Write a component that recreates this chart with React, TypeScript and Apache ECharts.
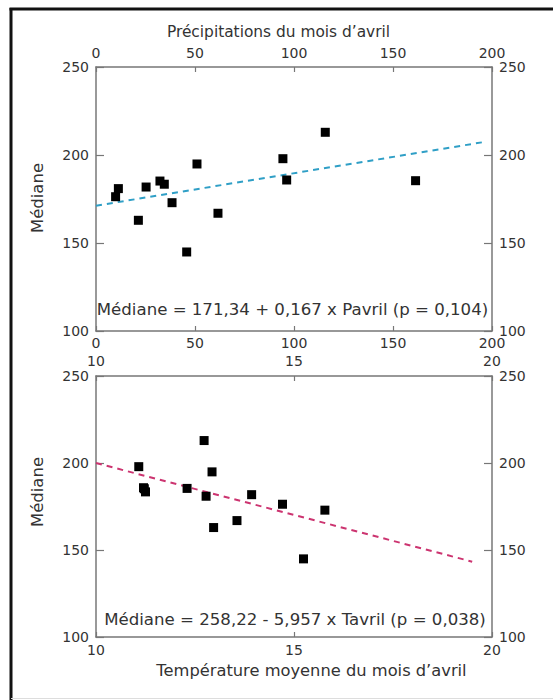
import React, { useEffect, useRef } from "react";
import * as echarts from "echarts";

// Data
const precipitation = [9.9, 11.3, 21.4, 25.3, 32.3, 34.5, 38.4, 45.8, 51.0, 61.6, 94.4, 96.3, 115.8, 161.4];
const temperature = [14.71, 12.78, 12.97, 13.93, 11.22, 11.25, 15.78, 15.24, 12.93, 13.56, 11.08, 11.2, 12.73, 12.3];
const median = [176.3, 180.9, 162.9, 181.8, 185.2, 183.4, 172.9, 144.9, 194.9, 166.9, 197.9, 185.8, 212.9, 185.4];

const fitPrecipX = [0, 195];
const fitPrecipY = [171.2, 207.2];
const fitTempX = [10, 19.5];
const fitTempY = [200, 143.3];

const precipTicks = { min: 0, max: 200, interval: 50 };
const tempTicks = { min: 10, max: 20, interval: 5 };
const medianTicks = { min: 100, max: 250, interval: 50 };

const eqPrecip = "Médiane = 171,34 + 0,167 x Pavril (p = 0,104)";
const eqTemp = "Médiane = 258,22 - 5,957 x Tavril (p = 0,038)";
const titleTop = "Précipitations du mois d\u2019avril";
const titleBottom = "Température moyenne du mois d\u2019avril";
const yName = "Médiane";

const FONT = "DejaVu Sans";
const AXIS_COLOR = "#777";
const TEXT_COLOR = "#333";

export default function App() {
  const ref = useRef<HTMLDivElement>(null);
  useEffect(() => {
    if (!ref.current) return;
    const chart = echarts.init(ref.current, null, { renderer: "svg" });

    const xAxisBase = (grid: number, pos: "top" | "bottom", ticks: any, margin: number) => ({
      type: "value",
      gridIndex: grid,
      position: pos,
      min: ticks.min,
      max: ticks.max,
      interval: ticks.interval,
      axisLine: { show: true, onZero: false, lineStyle: { color: AXIS_COLOR, width: 1.5 } },
      axisTick: { show: true, inside: true, length: 5, lineStyle: { color: AXIS_COLOR, width: 1.2 } },
      axisLabel: { show: true, margin, fontSize: 14, color: TEXT_COLOR, fontFamily: FONT },
      splitLine: { show: false },
    });
    const yAxisBase = (grid: number, pos: "left" | "right") => ({
      type: "value",
      gridIndex: grid,
      position: pos,
      min: medianTicks.min,
      max: medianTicks.max,
      interval: medianTicks.interval,
      axisLine: { show: true, onZero: false, lineStyle: { color: AXIS_COLOR, width: 1.5 } },
      axisTick: { show: true, inside: true, length: 8, lineStyle: { color: AXIS_COLOR, width: 1.2 } },
      axisLabel: { show: true, margin: 7, fontSize: 14, color: TEXT_COLOR, fontFamily: FONT },
      splitLine: { show: false },
    });

    const dashed = (color: string) => ({
      color,
      width: 2,
      type: [6, 5],
    });

    chart.setOption({
      animation: false,
      backgroundColor: "#fff",
      grid: [
        { left: 96, top: 67, width: 396, height: 264 },
        { left: 96, top: 376, width: 396, height: 261 },
      ],
      xAxis: [
        xAxisBase(0, "bottom", precipTicks, 5),
        xAxisBase(0, "top", precipTicks, 7),
        xAxisBase(1, "bottom", tempTicks, 6),
        xAxisBase(1, "top", tempTicks, 8),
      ],
      yAxis: [yAxisBase(0, "left"), yAxisBase(0, "right"), yAxisBase(1, "left"), yAxisBase(1, "right")],
      series: [
        {
          type: "line",
          xAxisIndex: 0,
          yAxisIndex: 0,
          data: fitPrecipX.map((x, i) => [x, fitPrecipY[i]]),
          symbol: "none",
          lineStyle: dashed("#2f9fc6"),
          z: 1,
        },
        {
          type: "scatter",
          xAxisIndex: 0,
          yAxisIndex: 0,
          data: precipitation.map((x, i) => [x, median[i]]),
          symbol: "rect",
          symbolSize: 9,
          itemStyle: { color: "#000", opacity: 1 },
          z: 2,
        },
        {
          type: "line",
          xAxisIndex: 2,
          yAxisIndex: 2,
          data: fitTempX.map((x, i) => [x, fitTempY[i]]),
          symbol: "none",
          lineStyle: dashed("#cc3470"),
          z: 1,
        },
        {
          type: "scatter",
          xAxisIndex: 2,
          yAxisIndex: 2,
          data: temperature.map((x, i) => [x, median[i]]),
          symbol: "rect",
          symbolSize: 9,
          itemStyle: { color: "#000", opacity: 1 },
          z: 2,
        },
      ],
      graphic: [
        { type: "line", shape: { x1: 9.5, y1: 9, x2: 553, y2: 9 }, style: { stroke: "#111", lineWidth: 3 } },
        { type: "line", shape: { x1: 11, y1: 8, x2: 11, y2: 700 }, style: { stroke: "#111", lineWidth: 3 } },
        { type: "line", shape: { x1: 11, y1: 698.5, x2: 553, y2: 698.5 }, style: { stroke: "#ddd", lineWidth: 1 } },
        {
          type: "text",
          x: 278.5,
          y: 32,
          style: { text: titleTop, font: `15.4px "${FONT}"`, fill: TEXT_COLOR, textAlign: "center", textVerticalAlign: "middle" },
        },
        {
          type: "text",
          x: 311.5,
          y: 670,
          style: { text: titleBottom, font: `16.3px "${FONT}"`, fill: TEXT_COLOR, textAlign: "center", textVerticalAlign: "middle" },
        },
        {
          type: "text",
          x: 37,
          y: 198,
          rotation: Math.PI / 2,
          style: { text: yName, font: `16.5px "${FONT}"`, fill: TEXT_COLOR, textAlign: "center", textVerticalAlign: "middle" },
        },
        {
          type: "text",
          x: 37,
          y: 492,
          rotation: Math.PI / 2,
          style: { text: yName, font: `16.5px "${FONT}"`, fill: TEXT_COLOR, textAlign: "center", textVerticalAlign: "middle" },
        },
        {
          type: "text",
          x: 292.5,
          y: 309,
          z: 10,
          style: { text: eqPrecip, font: `16.6px "${FONT}"`, fill: TEXT_COLOR, textAlign: "center", textVerticalAlign: "middle" },
        },
        {
          type: "text",
          x: 295,
          y: 619,
          z: 10,
          style: { text: eqTemp, font: `16.6px "${FONT}"`, fill: TEXT_COLOR, textAlign: "center", textVerticalAlign: "middle" },
        },
      ],
    });
    return () => chart.dispose();
  }, []);

  return (
    <div
      ref={ref}
      style={{ position: "fixed", left: 0, top: 0, width: 553, height: 700, background: "#fff" }}
    />
  );
}
